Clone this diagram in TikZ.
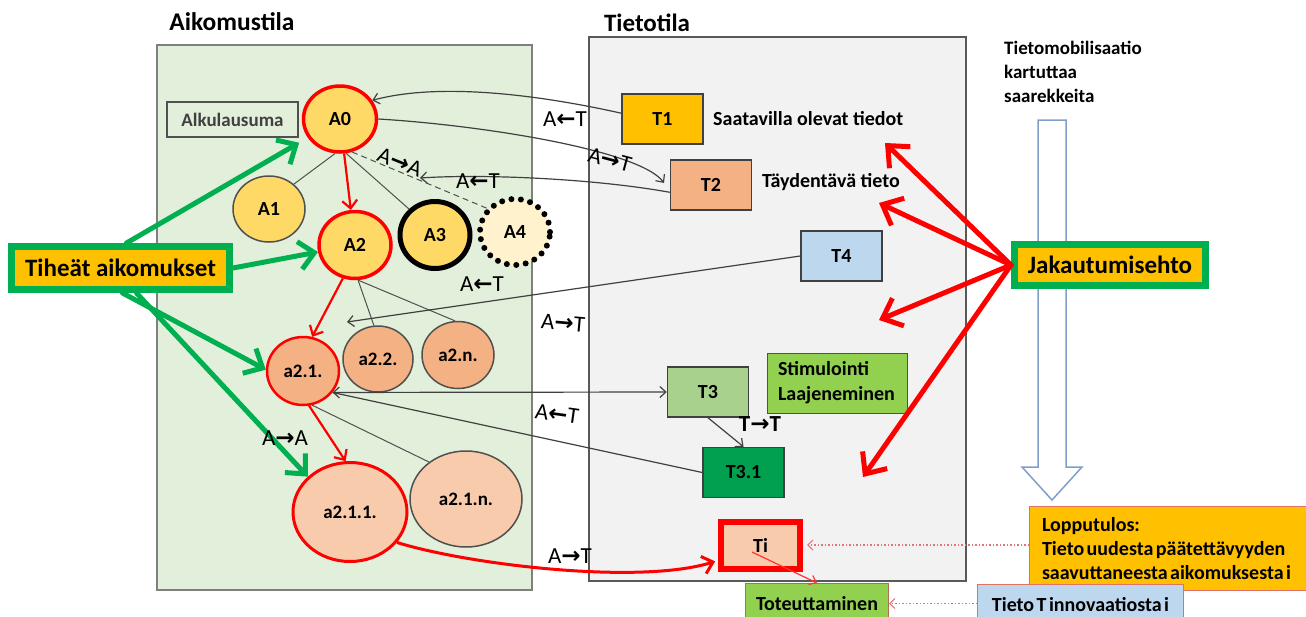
\documentclass[tikz,border=0pt]{standalone}
\usepackage{fontspec}
\setmainfont{Carlito}
\newfontfamily\tightfont{Carlito}[WordSpace=0.55]
\newfontfamily\arrowfont{DejaVu Sans}
\usetikzlibrary{arrows.meta,shapes.geometric}

\definecolor{aigreen}{HTML}{E2EFDA}
\definecolor{tigray}{HTML}{F2F2F2}
\definecolor{frameA}{HTML}{7F7F7F}
\definecolor{frameT}{HTML}{595959}
\definecolor{edgegray}{HTML}{505050}
\definecolor{connline}{HTML}{404040}
\definecolor{ayellow}{HTML}{FFD966}
\definecolor{apale}{HTML}{FFF2CC}
\definecolor{apeach}{HTML}{F4B183}
\definecolor{alight}{HTML}{F8CBAD}
\definecolor{tiorange}{HTML}{FFC000}
\definecolor{grn}{HTML}{00B050}
\definecolor{tblue}{HTML}{BDD7EE}
\definecolor{tgreen}{HTML}{A9D18E}
\definecolor{lgreen}{HTML}{92D050}
\definecolor{dgreen}{HTML}{00A050}
\definecolor{hollow}{HTML}{7F9FC8}
\definecolor{dotred}{HTML}{E8707A}
\definecolor{boxred}{HTML}{E07060}
\definecolor{totedge}{HTML}{B07050}

\newcommand\ArR{{\arrowfont\bfseries →}}
\newcommand\ArL{{\arrowfont\bfseries ←}}

\begin{document}
\begin{tikzpicture}[x=1pt,y=-1pt,
  ell/.style={ellipse, inner sep=0pt, font=\bfseries\fontsize{20}{24}\selectfont,
              line width=1.5pt, draw=edgegray},
  redring/.style={draw=red, line width=3.5pt},
  tbox/.style={rectangle, draw=connline, line width=1.5pt, minimum width=81pt,
               minimum height=50pt, inner sep=0pt, font=\bfseries\fontsize{20}{24}\selectfont},
  plain/.style={font=\bfseries\fontsize{20}{24}\selectfont, inner sep=0pt},
  arrlabel/.style={font=\fontsize{23}{26}\selectfont, inner sep=0pt},
  treeline/.style={draw=edgegray, line width=1pt},
  conn/.style={draw=connline, line width=1.2pt, -{Straight Barb[length=6pt,width=11pt]}},
  redthin/.style={draw=red, line width=2.2pt, -{Straight Barb[length=8pt,width=15pt]}},
  grnarrow/.style={draw=grn, line width=5pt, line cap=round,
                   -{Straight Barb[length=15pt,width=28pt]}},
  jakarrow/.style={draw=red, line width=5pt, line cap=round,
                   -{Straight Barb[length=17pt,width=30pt]}},
  dotarrow/.style={draw=dotred, line width=1.2pt, dash pattern=on 1.5pt off 2pt,
                   -{Straight Barb[length=5pt,width=10pt]}},
]
\useasboundingbox (0,0) rectangle (1306,616);
\fill[white] (0,0) rectangle (1306,616);

% the two spaces
\draw[fill=aigreen, draw=frameA, line width=1.5pt] (157,45) rectangle (532,590);
\draw[fill=tigray, draw=frameT, line width=2pt] (589,37) rectangle (966,581);

% hollow downward arrow
\draw[draw=hollow, line width=1.5pt, fill=white, line join=miter]
  (1038,120) -- (1066,120) -- (1066,467) -- (1082,467) -- (1052,500)
  -- (1022,467) -- (1038,467) -- cycle;

% titles
\node[plain, font=\bfseries\fontsize{25.5}{30}\selectfont] (ttlA) at (232,22) {Aikomustila};
\node[plain, font=\bfseries\fontsize{25}{30}\selectfont] (ttlT) at (647,23) {Tietotila};
\node[plain, anchor=north west, align=left, font=\bfseries\fontsize{19}{24}\selectfont]
  (mob) at (1004,41) {Tietomobilisaatio\\kartuttaa\\saarekkeita};

% intention space
\node[draw=edgegray, line width=1.2pt, minimum width=131pt, minimum height=35pt,
      inner sep=0pt, text=connline, font=\bfseries\fontsize{19}{22}\selectfont]
  (alku) at (232.5,119.5) {Alkulausuma};

\node[ell, redring, fill=ayellow, minimum width=73pt, minimum height=66pt] (A0) at (340,119) {A0};
\node[ell, fill=ayellow, minimum width=72pt, minimum height=66pt] (A1) at (269,209) {A1};
\node[ell, redring, fill=ayellow, minimum width=72pt, minimum height=67pt] (A2) at (355,245) {A2};
\node[ell, draw=black, line width=5pt, fill=ayellow, minimum width=70pt, minimum height=67pt] (A3) at (435,235) {A3};
\node[ell, draw=black, line width=6pt, dash pattern=on 0pt off 9.5pt, line cap=round,
      fill=apale, minimum width=70pt, minimum height=66pt] (A4) at (515,232) {A4};

\node[ell, draw=red, line width=2.5pt, fill=apeach, minimum width=72pt, minimum height=68pt,
      font=\bfseries\fontsize{19}{22}\selectfont] (a21) at (303,371) {a2.1.};
\node[ell, fill=apeach, minimum width=70pt, minimum height=66pt,
      font=\bfseries\fontsize{19}{22}\selectfont] (a22) at (378,359) {a2.2.};
\node[ell, fill=apeach, minimum width=72pt, minimum height=67pt,
      font=\bfseries\fontsize{19}{22}\selectfont] (a2n) at (458,355) {a2.n.};
\node[ell, draw=red, line width=3pt, fill=alight, minimum width=114pt, minimum height=99pt,
      font=\bfseries\fontsize{19}{22}\selectfont] (a211) at (350,512) {a2.1.1.};
\node[ell, fill=alight, minimum width=112pt, minimum height=96pt,
      font=\bfseries\fontsize{19}{22}\selectfont] (a21n) at (466,499) {a2.1.n.};

% knowledge space
\node[tbox, fill=tiorange] (T1) at (662.5,119) {T1};
\node[tbox, fill=apeach] (T2) at (711,185) {T2};
\node[tbox, fill=tblue] (T4) at (841.5,256) {T4};
\node[tbox, fill=tgreen] (T3) at (708,392) {T3};
\node[tbox, fill=dgreen] (T31) at (743.5,472.5) {T3.1};
\node[tbox, draw=red, line width=6pt, fill=alight, minimum width=79pt, minimum height=47pt]
  (Ti) at (760.5,545) {Ti};

\node[plain, anchor=west] (t1txt) at (713,119) {Saatavilla olevat tiedot};
\node[plain, anchor=west] (t2txt) at (762,182) {Täydentävä tieto};
\node[draw=edgegray, line width=1pt, fill=lgreen, text width=118pt, inner xsep=11pt,
      inner ysep=0pt, minimum height=60pt, align=flush left,
      font=\bfseries\fontsize{20}{25}\selectfont] (stim) at (837,383) {Stimulointi\\Laajeneminen};

% side boxes
\node[draw=grn, line width=7pt, fill=tiorange, minimum width=218pt, minimum height=43pt,
      inner sep=0pt, font=\bfseries\fontsize{25}{30}\selectfont] (tih) at (120.5,268) {Tiheät aikomukset};
\node[draw=grn, line width=7pt, fill=tiorange, minimum width=191pt, minimum height=41pt,
      inner sep=0pt, font=\bfseries\fontsize{25}{30}\selectfont] (jak) at (1110,265) {Jakautumisehto};

\node[draw=boxred, line width=1pt, fill=tiorange, anchor=north west, minimum width=290pt,
      minimum height=84pt, text width=265pt, inner xsep=10pt, inner ysep=0pt, align=flush left,
      font=\tightfont\bfseries\fontsize{20}{24}\selectfont]
  (lop) at (1029,506) {Lopputulos:\\Tieto uudesta päätettävyyden\\saavuttaneesta aikomuksesta i};
\node[draw=boxred, line width=1pt, fill=tblue, anchor=north west, minimum width=206pt,
      minimum height=40pt, inner sep=0pt, font=\tightfont\bfseries\fontsize{20}{24}\selectfont]
  (tietoT) at (977,584) {Tieto T innovaatiosta i};
\node[draw=totedge, line width=1pt, fill=lgreen, anchor=north west, minimum width=143pt,
      minimum height=40pt, inner sep=0pt, font=\bfseries\fontsize{20}{24}\selectfont]
  (tot) at (745,583) {Toteuttaminen};

% tree of intentions
\draw[treeline] (A0.262) -- (A1.45);
\draw[treeline] (A0.280) -- (A3.135);
\draw[treeline, dashed, dash pattern=on 6pt off 4pt] (A0.290) -- (A4.140);
\draw[treeline] (A2.275) -- (a22.97);
\draw[treeline] (A2.275) -- (a2n.95);
\draw[treeline] (a21.285) -- (a21n.135);

\draw[redthin] (A0) -- (A2);
\draw[redthin] (A2.250) -- (a21.75);
\draw[redthin] (a21.280) -- (a211.95);

% connectors between the spaces
\coordinate (t2in) at (664,183);
\coordinate (aa) at (420,178);
\coordinate (t4tip) at (347,322);
\coordinate (tiout) at (752,552);
\draw[conn] (T1.172) .. controls (540,95) and (440,82) .. (A0.30);
\draw[conn] (A0.east) .. controls (480,125) and (640,150) .. (t2in);
\draw[conn] (T2.190) .. controls (590,178) and (480,174) .. (aa);
\draw[conn] (T4.west) -- (t4tip);
\draw[conn, {Straight Barb[length=6pt,width=11pt]}-{Straight Barb[length=6pt,width=11pt]}]
  (a21.-36) -- (T3.west);
\draw[draw=connline, line width=1.2pt] (T31.west) -- (a21.-36);
\draw[conn] (T3.south) -- (T31.north);

\draw[draw=red, line width=3pt, -{Straight Barb[length=10pt,width=18pt]}, shorten >=3pt]
  (a211.-33) .. controls (470,565) and (640,585) .. (Ti.200);
\draw[draw=red!80, line width=1.2pt, -{Straight Barb[length=6pt,width=10pt]}] (tiout) -- (tot.north);

\draw[dotarrow, shorten >=4pt] (Ti.east -| lop.west) -- (Ti.east);
\draw[dotarrow] (tot.east -| tietoT.west) -- (tot.east);

% dense intentions
\draw[grnarrow, shorten >=10pt] ([xshift=6pt]tih.north) -- (A0);
\draw[grnarrow] (tih.east) -- (A2);
\draw[grnarrow] ([xshift=2pt]tih.south) -- (a21.178);
\draw[grnarrow] ([xshift=16pt]tih.south) -- (a211.140);

% distribution condition
\coordinate (j1) at (885,143);
\coordinate (j2) at (879,203);
\coordinate (j3) at (879,320);
\coordinate (j4) at (863,477);
\draw[jakarrow] (jak.west) -- (j1);
\draw[jakarrow] (jak.west) -- (j2);
\draw[jakarrow] (jak.west) -- (j3);
\draw[jakarrow] (jak.west) -- (j4);

% relation labels
\node[arrlabel] (lab1) at (565,119) {A\ArL T};
\node[arrlabel, rotate=-15] (lab2) at (610,160) {A\ArR T};
\node[arrlabel, rotate=-22] (lab3) at (400,162) {A\ArR A};
\node[arrlabel] (lab4) at (478,181) {A\ArL T};
\node[arrlabel] (lab5) at (482,284) {A\ArL T};
\node[arrlabel, rotate=-5] (lab6) at (563,323) {A\ArR T};
\node[arrlabel, rotate=-8] (lab7) at (557,414) {A\ArL T};
\node[arrlabel] (lab8) at (285,438) {A\ArR A};
\node[arrlabel] (lab9) at (570,556) {A\ArR T};
\node[arrlabel, font=\bfseries\fontsize{23}{26}\selectfont] (lab10) at (760,424) {T\ArR T};
\end{tikzpicture}
\end{document}
